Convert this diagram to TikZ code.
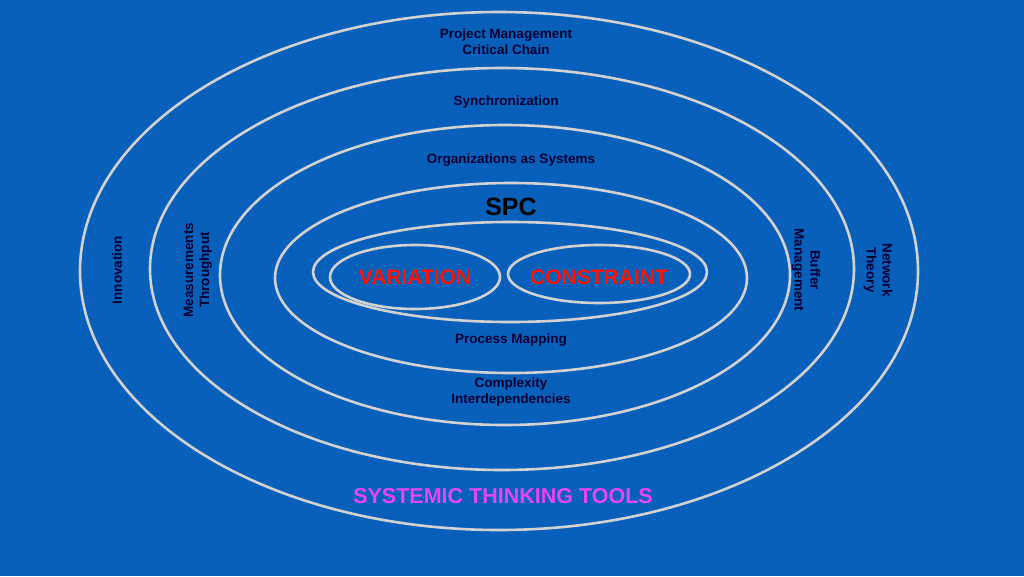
\documentclass[tikz,border=0pt]{standalone}
\usepackage{fontspec}
\setmainfont{Liberation Sans}
\begin{document}
\begin{tikzpicture}[x=1pt,y=-1pt,
  ring/.style={draw=gray!35!white,line width=2.6pt},
  lab/.style={font=\bfseries\fontsize{13.5}{16}\selectfont,text=black!80!blue,align=center},
  big/.style={font=\bfseries\fontsize{21}{23}\selectfont,text=red!85!orange}]
\fill[fill={rgb,255:red,8;green,96;blue,186}] (0,0) rectangle (1024,576);
\useasboundingbox (0,0) rectangle (1024,576);
\draw[ring] (499,271) ellipse [x radius=419,y radius=259];
\draw[ring] (502,269) ellipse [x radius=352,y radius=201];
\draw[ring] (505,275) ellipse [x radius=285,y radius=150];
\draw[ring] (511,278) ellipse [x radius=236,y radius=95];
\draw[ring] (510,272) ellipse [x radius=197,y radius=50];
\draw[ring] (415,277) ellipse [x radius=85,y radius=32];
\draw[ring] (599,274) ellipse [x radius=91,y radius=29];
\node[lab] (pm) at (506,42) {Project Management\\Critical Chain};
\node[lab] (sy) at (506,102) {Synchronization};
\node[lab] (oa) at (511,160) {Organizations as Systems};
\node[font=\bfseries\fontsize{25}{27}\selectfont] (spc) at (511,207) {SPC};
\node[big] (va) at (415,277) {VARIATION};
\node[big] (co) at (599,277) {CONSTRAINT};
\node[lab] (pr) at (511,340) {Process Mapping};
\node[lab] (cx) at (511,392) {Complexity\\Interdependencies};
\node[lab,rotate=90] (in) at (117,270) {Innovation};
\node[lab,rotate=90] (me) at (198,270) {Measurements\\Throughput};
\node[lab,rotate=-90] (bu) at (806,270) {Buffer\\Management};
\node[lab,rotate=-90] (ne) at (878,270) {Network\\Theory};
\node[font=\bfseries\fontsize{21.5}{23}\selectfont,text={rgb,255:red,230;green,70;blue,240}] (st) at (503,496) {SYSTEMIC THINKING TOOLS};
\end{tikzpicture}
\end{document}
